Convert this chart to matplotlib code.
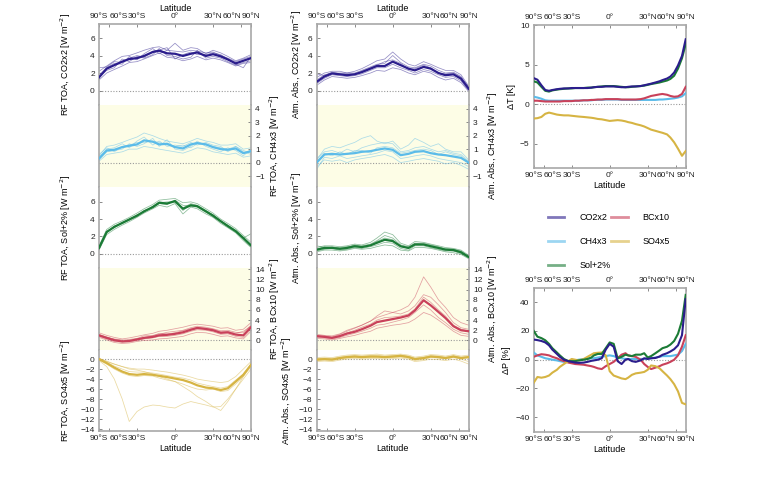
"""
Zonal-mean forcing, absorption and response (reproduction)
"""
import numpy as np
import matplotlib
matplotlib.use('Agg')
import matplotlib.pyplot as plt
from matplotlib.lines import Line2D

plt.rcParams['font.family'] = ['Liberation Sans', 'DejaVu Sans']
plt.rcParams['font.size'] = 6.5

# ---- data ----
# latitude grids (deg), roughly evenly spaced in sin(latitude)
lat_c = [-90, -64, -53, -44, -37, -30, -24, -17, -12, -6, 0, 6, 12, 17, 24, 30, 37, 44, 53, 64, 90]
lat_f = [-90, -72, -64, -58, -53, -49, -44, -41, -37, -33, -30, -27, -24, -20, -17, -14, -12, -9, -6, -3,
         0, 3, 6, 9, 12, 14, 17, 20, 24, 27, 30, 33, 37, 41, 44, 49, 53, 58, 64, 72, 90]

experiments = ['CO2x2', 'CH4x3', 'Sol+2%', 'BCx10', 'SO4x5']
colors = ['#2b1d8c', '#5bbbe9', '#1b7b36', '#c9415a', '#d6b443']

# RF TOA, multi-model mean
toa_co2 = [1.5, 2.5, 2.9, 3.3, 3.6, 3.7, 3.95, 4.4, 4.55, 4.25, 4.2, 3.95, 4.2, 4.35, 3.95, 4.15, 3.9, 3.55, 3.1, 3.4, 3.7]
toa_ch4 = [0.3, 0.9, 0.95, 1.15, 1.25, 1.35, 1.65, 1.55, 1.35, 1.4, 1.15, 1.05, 1.35, 1.45, 1.35, 1.15, 1.0, 0.95, 1.05, 0.7, 0.85]
toa_sol = [0.65, 2.5, 3.1, 3.55, 3.95, 4.4, 4.9, 5.4, 5.9, 5.8, 6.1, 5.2, 5.6, 5.5, 4.9, 4.4, 3.75, 3.2, 2.6, 1.8, 0.95]
toa_bc = [1.0, 0.5, 0.05, -0.2, -0.1, 0.2, 0.5, 0.7, 1.0, 1.1, 1.3, 1.6, 2.1, 2.45, 2.25, 2.0, 1.5, 1.6, 1.15, 1.0, 2.6]
toa_so4 = [0.0, -0.8, -1.7, -2.5, -3.0, -3.15, -3.0, -3.15, -3.35, -3.6, -3.9, -4.2, -4.7, -5.25, -5.7, -5.85, -6.2, -5.85, -4.5, -3.15, -1.15]

# RF TOA, individual models
toa_co2_m = [
    [2.2, 2.8, 3.4, 3.9, 4.0, 4.3, 4.6, 4.9, 5.0, 4.6, 5.4, 4.6, 4.9, 4.8, 4.2, 4.6, 4.3, 3.9, 3.4, 3.7, 4.1],
    [1.2, 2.0, 2.4, 2.8, 3.2, 3.3, 3.6, 4.0, 4.3, 3.8, 3.7, 3.4, 3.6, 3.9, 3.5, 3.7, 3.5, 3.2, 2.8, 3.1, 3.2],
    [1.8, 2.6, 3.1, 3.0, 3.9, 3.5, 4.2, 4.8, 4.2, 4.6, 4.5, 4.4, 4.6, 4.5, 4.3, 4.4, 4.0, 3.7, 3.3, 3.6, 3.9],
    [1.6, 2.3, 2.6, 3.6, 3.3, 3.9, 3.7, 4.1, 4.8, 4.0, 3.9, 3.6, 3.8, 4.6, 3.7, 3.9, 3.7, 3.3, 2.9, 3.2, 3.4],
    [2.6, 2.7, 3.3, 3.2, 3.7, 4.0, 3.8, 4.5, 4.6, 4.9, 3.6, 4.1, 4.4, 4.1, 4.1, 4.3, 4.1, 3.6, 3.0, 2.6, 3.9],
]
toa_ch4_m = [
    [0.5, 1.2, 1.3, 1.5, 1.7, 1.9, 2.2, 2.0, 1.8, 1.6, 1.5, 1.4, 1.6, 1.8, 1.6, 1.5, 1.3, 1.3, 1.4, 1.0, 1.1],
    [0.1, 0.6, 0.7, 0.8, 1.0, 1.0, 1.2, 1.1, 1.0, 0.9, 0.8, 0.7, 0.9, 1.1, 1.0, 0.8, 0.7, 0.6, 0.7, 0.4, 0.5],
    [0.4, 1.0, 1.1, 1.4, 1.1, 1.6, 1.9, 1.3, 1.6, 1.2, 1.3, 1.2, 1.5, 1.3, 1.5, 1.3, 1.2, 0.8, 1.2, 0.9, 0.7],
    [0.2, 0.8, 0.9, 1.0, 1.4, 1.2, 1.4, 1.8, 1.2, 1.7, 1.0, 0.9, 1.2, 1.6, 1.2, 1.0, 0.8, 1.1, 0.9, 0.5, 1.0],
    [0.6, 1.1, 0.8, 1.2, 1.3, 1.5, 1.5, 1.6, 1.5, 1.3, 1.2, 1.3, 1.1, 1.4, 1.4, 1.2, 1.1, 1.0, 1.2, 0.8, 0.6],
]
toa_sol_m = [
    [0.9, 2.8, 3.4, 3.8, 4.2, 4.7, 5.2, 5.7, 6.2, 6.3, 6.4, 5.9, 6.0, 5.8, 5.2, 4.7, 4.0, 3.5, 2.9, 2.1, 1.3],
    [0.4, 2.2, 2.8, 3.3, 3.7, 4.2, 4.7, 5.2, 5.6, 5.4, 5.8, 4.6, 5.4, 5.2, 4.6, 4.2, 3.5, 3.0, 2.4, 1.5, 0.7],
    [0.7, 2.6, 3.0, 3.6, 4.0, 4.5, 4.8, 5.5, 6.0, 5.9, 5.9, 5.3, 5.8, 5.6, 5.0, 4.5, 3.8, 3.3, 2.7, 1.9, 1.0],
    [0.5, 2.4, 3.2, 3.5, 3.9, 4.3, 5.0, 5.3, 5.8, 5.7, 6.2, 5.6, 5.5, 5.4, 4.8, 4.3, 3.7, 3.1, 2.5, 1.7, 0.8],
    [0.8, 2.5, 3.1, 3.6, 4.0, 4.4, 4.9, 5.4, 5.9, 6.0, 6.0, 5.0, 5.7, 5.5, 4.9, 4.5, 3.8, 3.2, 2.6, 1.8, 2.3],
]
toa_bc_m = [
    [1.5, 1.0, 0.6, 0.3, 0.5, 0.8, 1.1, 1.4, 1.8, 2.0, 2.3, 2.6, 3.0, 3.2, 3.0, 2.8, 2.4, 2.5, 2.0, 2.2, 3.5],
    [0.6, 0.1, -0.4, -0.6, -0.5, -0.2, 0.0, 0.1, 0.3, 0.4, 0.6, 0.8, 1.3, 1.6, 1.5, 1.2, 0.8, 0.9, 0.5, 0.3, 1.8],
    [1.2, 0.7, 0.2, 0.0, 0.2, 0.4, 0.9, 1.0, 1.2, 1.6, 1.8, 2.0, 2.5, 2.8, 2.6, 2.3, 1.9, 2.0, 1.6, 1.5, 3.0],
    [0.8, 0.3, -0.2, -0.3, -0.3, 0.0, 0.3, 0.5, 0.8, 0.8, 1.0, 1.3, 1.8, 2.1, 2.0, 1.7, 1.2, 1.3, 0.8, 0.6, 2.2],
    [1.1, 0.6, 0.3, 0.1, 0.0, 0.3, 0.6, 0.9, 1.4, 1.3, 1.5, 1.9, 2.3, 2.6, 2.4, 2.2, 1.7, 1.8, 1.4, 1.8, 2.8],
]
toa_so4_m = [
    [-0.3, -1.5, -4.0, -8.0, -12.5, -10.5, -9.6, -9.2, -9.3, -9.6, -9.8, -9.0, -8.5, -8.8, -9.2, -9.6, -9.5, -8.0, -6.0, -4.0, -2.0],
    [0.2, -0.5, -1.0, -1.5, -2.0, -2.2, -2.5, -3.0, -3.5, -4.0, -4.5, -5.5, -6.5, -7.5, -8.5, -9.5, -10.3, -8.5, -6.0, -3.5, -1.0],
    [0.1, -0.4, -1.0, -1.5, -1.8, -2.0, -2.0, -2.2, -2.4, -2.6, -2.9, -3.2, -3.6, -4.0, -4.3, -4.5, -4.7, -4.5, -3.5, -2.0, -0.5],
    [-0.2, -1.0, -2.0, -2.8, -3.3, -3.5, -3.3, -3.4, -3.8, -4.2, -4.5, -5.0, -5.6, -6.0, -6.2, -6.0, -6.5, -6.3, -5.0, -3.5, -1.5],
    [0.0, -0.6, -1.4, -2.0, -2.5, -2.6, -2.6, -2.8, -3.0, -3.3, -3.6, -3.8, -4.2, -4.8, -5.2, -5.5, -5.8, -5.5, -4.2, -3.0, -1.0],
]

# Atmospheric absorption, multi-model mean
abs_co2 = [1.0, 1.6, 1.95, 1.85, 1.75, 1.85, 2.1, 2.5, 2.8, 2.8, 3.3, 2.9, 2.5, 2.3, 2.7, 2.5, 2.0, 1.75, 1.85, 1.35, 0.2]
abs_ch4 = [0.0, 0.6, 0.65, 0.6, 0.65, 0.7, 0.8, 0.85, 0.95, 1.05, 0.95, 0.55, 0.65, 0.8, 0.85, 0.7, 0.6, 0.55, 0.45, 0.35, 0.0]
abs_sol = [0.45, 0.65, 0.65, 0.55, 0.65, 0.85, 0.75, 0.95, 1.25, 1.6, 1.45, 0.85, 0.65, 1.05, 1.05, 0.85, 0.65, 0.45, 0.4, 0.15, -0.4]
abs_bc = [0.85, 0.7, 0.5, 0.85, 1.35, 1.7, 2.2, 2.9, 3.6, 3.9, 4.2, 4.5, 4.9, 5.9, 7.9, 6.9, 5.6, 4.4, 2.8, 2.0, 1.8]
abs_so4 = [-0.1, 0.0, -0.1, 0.2, 0.4, 0.5, 0.4, 0.5, 0.5, 0.4, 0.5, 0.65, 0.4, 0.0, 0.2, 0.5, 0.4, 0.2, 0.5, 0.2, 0.4]

# Atmospheric absorption, individual models
abs_co2_m = [
    [1.5, 2.0, 2.2, 2.2, 2.0, 2.2, 2.5, 3.0, 3.4, 3.6, 4.4, 3.6, 3.0, 2.8, 3.3, 3.0, 2.6, 2.3, 2.3, 1.8, 0.5],
    [0.6, 1.2, 1.6, 1.5, 1.4, 1.5, 1.7, 2.0, 2.3, 2.2, 2.6, 2.4, 2.0, 1.8, 2.2, 2.0, 1.5, 1.2, 1.4, 0.9, -0.1],
    [1.2, 1.8, 2.0, 2.0, 2.0, 2.0, 2.3, 2.7, 3.0, 3.1, 4.0, 3.2, 2.7, 2.6, 3.0, 2.8, 2.3, 2.0, 2.1, 1.6, 0.3],
    [0.8, 1.4, 1.8, 1.7, 1.6, 1.7, 1.9, 2.3, 2.6, 2.6, 3.0, 2.6, 2.3, 2.0, 2.4, 2.2, 1.8, 1.5, 1.6, 1.1, 0.0],
    [1.9, 1.7, 2.1, 1.9, 1.9, 1.9, 2.2, 2.6, 2.9, 3.3, 3.5, 3.1, 2.4, 2.5, 2.9, 2.6, 2.0, 1.9, 2.0, 1.5, 0.4],
]
abs_ch4_m = [
    [0.2, 1.0, 1.2, 1.1, 1.3, 1.5, 1.8, 2.0, 1.6, 1.4, 1.6, 1.0, 1.3, 1.8, 1.5, 1.2, 1.4, 1.0, 0.8, 0.8, 0.2],
    [-0.3, 0.2, 0.1, 0.2, 0.0, 0.2, 0.3, 0.4, 0.5, 0.6, 0.4, 0.0, 0.1, 0.2, 0.3, 0.2, 0.1, -0.1, 0.0, -0.2, -0.5],
    [0.3, 0.8, 0.9, 0.7, 1.0, 0.8, 1.1, 1.3, 1.4, 1.5, 1.4, 0.8, 0.9, 1.1, 1.2, 1.0, 0.8, 0.9, 0.7, 0.6, 0.1],
    [-0.5, 0.4, 0.3, 0.5, 0.3, 0.4, 0.5, 0.6, 0.7, 0.9, 0.8, 0.3, 0.4, 0.5, 0.6, 0.5, 0.3, 0.2, 0.1, 0.0, -0.3],
    [0.1, 0.7, 0.5, 0.8, 0.6, 0.9, 0.9, 0.7, 1.1, 1.2, 1.1, 0.7, 0.8, 0.9, 1.0, 0.9, 0.6, 0.8, 0.6, 0.5, 0.0],
]
abs_sol_m = [
    [0.7, 0.9, 0.9, 0.8, 0.9, 1.1, 1.0, 1.3, 1.8, 2.5, 2.2, 1.2, 0.9, 1.4, 1.3, 1.1, 0.9, 0.7, 0.6, 0.4, -0.2],
    [0.2, 0.4, 0.4, 0.3, 0.4, 0.6, 0.5, 0.6, 0.8, 1.0, 0.9, 0.4, 0.3, 0.7, 0.7, 0.6, 0.4, 0.2, 0.1, -0.1, -0.6],
    [0.5, 0.8, 0.7, 0.7, 0.8, 0.9, 0.9, 1.1, 1.5, 2.1, 1.8, 1.0, 0.8, 1.2, 1.2, 1.0, 0.8, 0.5, 0.5, 0.2, -0.3],
    [0.3, 0.5, 0.6, 0.4, 0.5, 0.7, 0.6, 0.8, 1.0, 1.3, 1.2, 0.6, 0.4, 0.9, 0.9, 0.7, 0.5, 0.3, 0.3, 0.0, -0.5],
    [0.9, 0.7, 0.8, 0.6, 0.7, 1.0, 0.8, 1.0, 1.4, 1.8, 1.6, 0.8, 0.6, 1.2, 1.1, 0.9, 0.7, 0.6, 0.5, 0.3, -0.4],
]
abs_bc_m = [
    [1.2, 1.0, 0.9, 1.3, 2.0, 2.5, 3.0, 3.8, 4.5, 5.0, 5.5, 6.0, 6.8, 8.5, 12.5, 10.5, 8.0, 6.5, 4.5, 3.5, 3.0],
    [0.4, 0.3, 0.1, 0.4, 0.7, 1.0, 1.4, 1.8, 2.4, 2.7, 3.0, 3.2, 3.5, 4.2, 5.5, 5.0, 4.0, 3.0, 1.8, 1.0, 0.8],
    [1.0, 0.8, 0.7, 1.2, 1.8, 2.4, 3.0, 3.8, 4.8, 5.8, 5.5, 5.2, 5.8, 6.8, 9.0, 8.5, 7.0, 5.5, 3.5, 2.5, 2.2],
    [0.6, 0.5, 0.3, 0.6, 1.0, 1.4, 1.8, 2.4, 3.0, 3.2, 3.6, 4.0, 4.5, 5.5, 7.0, 6.0, 4.5, 3.5, 2.2, 1.5, 1.2],
    [0.8, 0.9, 0.6, 1.0, 1.5, 2.0, 2.6, 3.2, 4.0, 4.5, 4.6, 4.8, 5.2, 6.2, 8.5, 7.5, 6.0, 4.8, 3.0, 2.2, 1.9],
]
abs_so4_m = [
    [0.3, 0.4, 0.3, 0.6, 0.8, 0.9, 0.8, 0.9, 1.0, 0.8, 0.9, 1.0, 0.8, 0.4, 0.6, 0.9, 0.8, 0.6, 0.9, 0.6, 0.8],
    [-0.5, -0.4, -0.5, -0.2, 0.0, 0.1, 0.0, 0.1, 0.1, 0.0, 0.1, 0.2, 0.0, -0.5, -0.3, 0.0, -0.1, -0.3, 0.0, -0.4, -1.0],
    [0.1, 0.2, 0.1, 0.4, 0.6, 0.7, 0.6, 0.7, 0.8, 0.6, 0.7, 0.8, 0.6, 0.2, 0.4, 0.7, 0.6, 0.4, 0.7, 0.4, 0.6],
    [-0.3, -0.2, -0.3, 0.0, 0.2, 0.3, 0.2, 0.3, 0.3, 0.2, 0.3, 0.4, 0.2, -0.3, -0.1, 0.3, 0.2, 0.0, 0.3, 0.0, -0.5],
    [0.0, 0.1, 0.0, 0.3, 0.5, 0.6, 0.5, 0.6, 0.6, 0.5, 0.6, 0.8, 0.5, 0.1, 0.3, 0.6, 0.5, 0.3, 0.6, 0.3, 0.2],
]

# temperature response [K]
dT_co2 = [3.3, 3.1, 2.4, 1.8, 1.7, 1.8, 1.9, 1.95, 2.0, 2.0, 2.05, 2.05, 2.05, 2.05, 2.05, 2.1, 2.15, 2.2, 2.2, 2.25,
          2.25, 2.25, 2.2, 2.15, 2.15, 2.2, 2.25, 2.25, 2.3, 2.4, 2.5, 2.6, 2.75, 2.9, 3.05, 3.25, 3.5, 4.0, 4.9, 6.1, 8.2]
dT_ch4 = [0.95, 0.85, 0.7, 0.5, 0.45, 0.45, 0.45, 0.45, 0.45, 0.45, 0.45, 0.45, 0.45, 0.5, 0.5, 0.5, 0.55, 0.55, 0.55, 0.6,
          0.6, 0.6, 0.6, 0.55, 0.55, 0.55, 0.55, 0.55, 0.55, 0.55, 0.55, 0.55, 0.55, 0.6, 0.6, 0.65, 0.7, 0.75, 0.85, 1.0, 1.4]
dT_sol = [2.9, 2.75, 2.2, 1.7, 1.6, 1.75, 1.85, 1.9, 1.95, 2.0, 2.0, 2.05, 2.05, 2.05, 2.1, 2.1, 2.15, 2.2, 2.25, 2.3,
          2.3, 2.3, 2.25, 2.2, 2.15, 2.15, 2.2, 2.25, 2.3, 2.35, 2.45, 2.55, 2.65, 2.75, 2.85, 3.0, 3.2, 3.6, 4.5, 5.8, 7.6]
dT_bc = [0.45, 0.45, 0.4, 0.35, 0.35, 0.35, 0.35, 0.35, 0.4, 0.4, 0.4, 0.45, 0.45, 0.5, 0.5, 0.55, 0.55, 0.6, 0.6, 0.65,
         0.65, 0.65, 0.65, 0.6, 0.6, 0.6, 0.6, 0.6, 0.65, 0.75, 0.9, 1.05, 1.15, 1.25, 1.3, 1.2, 1.05, 0.95, 1.0, 1.3, 2.2]
dT_so4 = [-1.8, -1.75, -1.6, -1.2, -1.05, -1.15, -1.3, -1.35, -1.4, -1.4, -1.45, -1.5, -1.55, -1.6, -1.65, -1.7, -1.75, -1.85, -1.9, -2.0,
          -2.1, -2.05, -2.0, -2.05, -2.15, -2.25, -2.35, -2.5, -2.65, -2.8, -3.0, -3.2, -3.35, -3.5, -3.6, -3.8, -4.2, -4.8, -5.6, -6.5, -5.9]

# precipitation response [%]
dP_co2 = [14, 13.6, 13, 12, 10, 7, 4, 2, 0, -1, -1.5, -2, -2.2, -2, -1.5, -0.8, -0.5, 0, 1, 7,
          11, 9, -1, -3, 0, 0.5, -1, -1.5, -0.5, 1, 0.5, 1, 1.2, 2.2, 3.4, 4.5, 5.7, 7.3, 10, 17, 42]
dP_ch4 = [5, 3, 2, 1, 0.5, 0, -0.5, -1, -1.5, -1.5, -1, -0.5, 0, 0.5, 0.5, 1, 1, 1.5, 2, 2.5,
          3, 2.5, 1.5, 1, 0.5, 0.5, 0.5, 0.5, 0.5, 0.5, 1, 1, 1.5, 2, 2.5, 2.5, 2.5, 3, 3.5, 6, 11]
dP_sol = [20, 16, 15, 13.5, 11, 8, 5, 3, 0.5, -1, -1, -1, -0.5, 0, 0.5, 1.5, 3, 4, 4, 8,
          12, 11, 1, 2, 3.5, 3, 2.5, 3.5, 3.5, 4.5, 1.5, 2.5, 4.5, 6.5, 8, 9, 10.5, 13, 18, 27, 45]
dP_bc = [2, 3, 3.8, 3.5, 3, 2, 1, 0, -1, -2, -2.5, -3, -3.2, -3.5, -4, -4.5, -5, -6, -6.5, -4.5,
         -3, -1.5, 1, 3.5, 4.5, 3, 2.5, 2, 0, -3, -5, -6.5, -5.5, -4.5, -3.5, -2.5, -1.5, 0, 3, 9, 17]
dP_so4 = [-16, -12, -12.5, -12, -11, -9, -7, -5, -3, -1, 0.5, 0, -0.5, 0.5, 2, 3.5, 4.5, 4.8, 5, 3,
          -8, -11, -12, -13, -13.5, -12.5, -10.5, -9.5, -9, -8.5, -7, -4, -4.5, -6, -8, -11, -13.5, -17, -22, -30, -31]

toa_mean = [toa_co2, toa_ch4, toa_sol, toa_bc, toa_so4]
toa_models = [toa_co2_m, toa_ch4_m, toa_sol_m, toa_bc_m, toa_so4_m]
abs_mean = [abs_co2, abs_ch4, abs_sol, abs_bc, abs_so4]
abs_models = [abs_co2_m, abs_ch4_m, abs_sol_m, abs_bc_m, abs_so4_m]
dT_all = [dT_co2, dT_ch4, dT_sol, dT_bc, dT_so4]
dP_all = [dP_co2, dP_ch4, dP_sol, dP_bc, dP_so4]

lat_ticks = [-90, -60, -30, 0, 30, 60, 90]
lat_labels = ['90°S', '60°S', '30°S', '0°', '30°N', '60°N', '90°N']

# ---- style ----
ylims = [(-1.7, 7.6), (-1.8, 4.25), (-1.7, 7.75), (-1.8, 14.2), (-14.4, 1.9)]
yticks = [[0, 2, 4, 6], [-1, 0, 1, 2, 3, 4], [0, 2, 4, 6], list(range(0, 15, 2)), list(range(-14, 1, 2))]
ysides = ['left', 'right', 'left', 'right', 'left']
shade = '#fdfde6'
frame = '#a8a8a8'


def fwd(x):
    return np.sin(np.deg2rad(x))


def inv(x):
    return np.rad2deg(np.arcsin(np.clip(x, -1, 1)))


def base_axes(ax):
    ax.set_xscale('function', functions=(fwd, inv))
    ax.set_xlim(-90, 90)
    ax.set_xticks(lat_ticks)
    ax.set_xticklabels(lat_labels)
    # 60S / 60N labels pushed inward so they do not sit on the pole labels
    ticks = ax.xaxis.get_major_ticks()
    for t, ha in ((ticks[1], 'left'), (ticks[5], 'right')):
        t.label1.set_horizontalalignment(ha)
        t.label2.set_horizontalalignment(ha)
    ax.tick_params(direction='in', length=2.5, width=0.6, color='#777', pad=3,
                   labelcolor='#222', labelsize=6)
    for sp in ax.spines.values():
        sp.set_color(frame)
        sp.set_linewidth(1.2)
    ax.axhline(0, color='#9a9a9a', lw=0.8, ls=(0, (1, 1.5)), zorder=1)


fig = plt.figure(figsize=(7.68, 4.8), dpi=100)

col_left = [99 / 768, 316.7 / 768]
col_w = 152 / 768
top = 1 - 24 / 480
ph = 81.4 / 480
prefix = ['RF TOA, ', 'Atm. Abs., ']
col_means = [toa_mean, abs_mean]
col_models = [toa_models, abs_models]

for c in range(2):
    for i in range(5):
        ax = fig.add_axes([col_left[c], top - (i + 1) * ph, col_w, ph])
        base_axes(ax)
        if i in (1, 3):
            ax.set_facecolor(shade)
        for m in col_models[c][i]:
            ax.plot(lat_c, m, color=colors[i], lw=0.55, alpha=0.5, zorder=2)
        ax.plot(lat_c, col_means[c][i], color=colors[i], lw=1.6, zorder=3)
        ax.set_ylim(ylims[i])
        ax.set_yticks(yticks[i])
        lab = prefix[c] + experiments[i] + ' [W m$^{-2}$]'
        if ysides[i] == 'right':
            ax.yaxis.tick_right()
            ax.yaxis.set_label_position('right')
            ax.set_ylabel(lab, labelpad=2)
        else:
            ax.set_ylabel(lab, labelpad=3)
            if c == 0:
                ax.yaxis.set_label_coords(-0.17, 0.5)
        if i > 0:
            ax.spines['top'].set_visible(False)
        if i < 4:
            ax.spines['bottom'].set_visible(False)
        if i == 0:
            ax.xaxis.tick_top()
            ax.xaxis.set_label_position('top')
            ax.set_xlabel('Latitude', labelpad=1.5)
        elif i == 4:
            ax.set_xlabel('Latitude', labelpad=1.5)
        else:
            ax.tick_params(axis='x', which='both', bottom=False, top=False,
                           labelbottom=False, labeltop=False)

# right column: temperature and precipitation response
rl = 533.7 / 768
axT = fig.add_axes([rl, 1 - 167.7 / 480, col_w, 142.7 / 480])
axP = fig.add_axes([rl, 1 - 431.7 / 480, col_w, 144 / 480])
for ax, series, lim, ticks, lab in [(axT, dT_all, (-8, 10), [-5, 0, 5, 10], 'ΔT [K]'),
                                    (axP, dP_all, (-50, 50), [-40, -20, 0, 20, 40], 'ΔP [%]')]:
    base_axes(ax)
    for i in [1, 3, 4, 2, 0]:
        ax.plot(lat_f, series[i], color=colors[i], lw=1.5, zorder=3)
    ax.set_ylim(lim)
    ax.set_yticks(ticks)
    ax.set_ylabel(lab, labelpad=3)
    ax.set_xlabel('Latitude', labelpad=1.5)
    ax.tick_params(axis='x', top=True, labeltop=True)

handles = [Line2D([], [], color=colors[i], lw=2, alpha=0.6) for i in range(5)]
fig.legend(handles, experiments, loc='upper left', bbox_to_anchor=(540 / 768, 1 - 205 / 480),
           ncol=2, frameon=False, handlelength=1.8, handletextpad=1.65,
           labelspacing=1.65, columnspacing=0.1, fontsize=6.5)

fig.savefig('out.png', dpi=100)
